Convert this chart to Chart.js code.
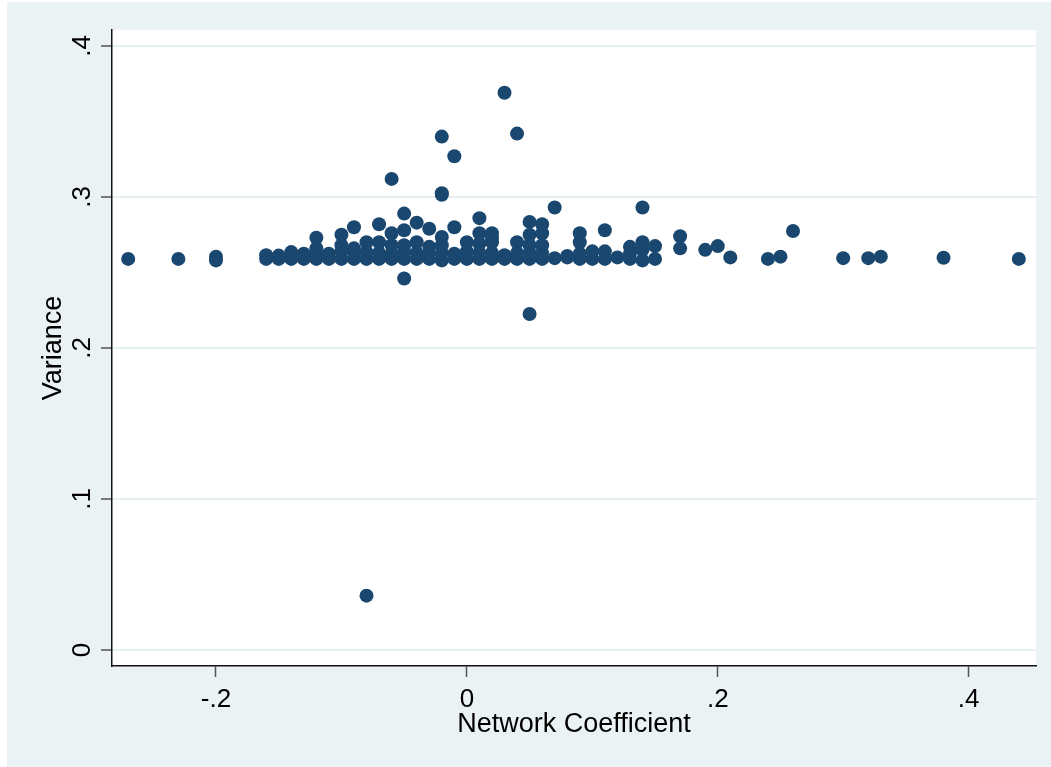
<!DOCTYPE html>
<html>
<head>
<meta charset="utf-8">
<script src="https://cdn.jsdelivr.net/npm/chart.js@4.4.1/dist/chart.umd.min.js"></script>
<style>
  html, body { margin: 0; padding: 0; background: #fff; }
  #wrap { width: 1051px; height: 767px; }
</style>
</head>
<body>
<div id="wrap"><canvas id="graph" width="1051" height="767"></canvas></div>
<script>
// valeurs (x = coefficient réseau, y = variance)
const networkCoef = [
  -0.27, -0.23, -0.20, -0.20,
  0.21, 0.24, 0.25, 0.26, 0.30, 0.32, 0.33, 0.38, 0.44,
  0.17, 0.17, 0.19, 0.20,
  -0.16, -0.15, -0.14, -0.13, -0.12, -0.11, -0.10, -0.09, -0.08, -0.07, -0.06, -0.05, -0.04, -0.03, -0.02, -0.01,
  0.00, 0.01, 0.02, 0.03, 0.04, 0.05, 0.06, 0.07, 0.08, 0.09, 0.10, 0.11, 0.12, 0.13, 0.14, 0.15,
  -0.16, -0.15, -0.14, -0.13, -0.12, -0.11, -0.10, -0.09, -0.08, -0.07, -0.06, -0.05, -0.04, -0.03, -0.02, -0.01,
  0.00, 0.01, 0.02, 0.03, 0.04, 0.05, 0.06, 0.08, 0.09, 0.10, 0.11, 0.13, 0.14, 0.15,
  -0.12, -0.10, -0.09, -0.08, -0.07, -0.06, -0.05, -0.04, -0.03, -0.02,
  0.00, 0.01, 0.02, 0.04, 0.05, 0.06, 0.09, 0.13, 0.14,
  -0.12, -0.10, -0.09, -0.07, -0.06, -0.06, -0.05, -0.05, -0.05, -0.04, -0.03,
  -0.02, -0.02, -0.02, -0.02, -0.01, -0.01, 0.01, 0.01, 0.02, 0.02, 0.03, 0.04,
  0.05, 0.05, 0.05, 0.06, 0.06, 0.07, 0.09, 0.11, 0.14, -0.08
];
const varianceVals = [
  0.259, 0.259, 0.258, 0.2605,
  0.260, 0.259, 0.2605, 0.2775, 0.2595, 0.2595, 0.2605, 0.2598, 0.259,
  0.274, 0.266, 0.265, 0.2675,
  0.259, 0.259, 0.259, 0.259, 0.259, 0.259, 0.259, 0.259, 0.259, 0.259, 0.259, 0.259, 0.259, 0.259, 0.258, 0.259,
  0.259, 0.259, 0.259, 0.259, 0.259, 0.259, 0.259, 0.2595, 0.260, 0.259, 0.259, 0.259, 0.260, 0.259, 0.258, 0.259,
  0.2615, 0.2612, 0.2635, 0.2625, 0.2625, 0.2625, 0.264, 0.263, 0.2635, 0.263, 0.2625, 0.264, 0.263, 0.2625, 0.263, 0.2625,
  0.264, 0.263, 0.263, 0.2615, 0.263, 0.263, 0.263, 0.261, 0.2625, 0.264, 0.264, 0.2625, 0.265, 0.2675,
  0.266, 0.268, 0.266, 0.270, 0.270, 0.268, 0.268, 0.270, 0.267, 0.268,
  0.270, 0.269, 0.270, 0.270, 0.268, 0.268, 0.270, 0.267, 0.270,
  0.273, 0.275, 0.280, 0.282, 0.276, 0.312, 0.278, 0.289, 0.246, 0.283, 0.279,
  0.2735, 0.3015, 0.3025, 0.340, 0.280, 0.327, 0.276, 0.286, 0.276, 0.273, 0.369, 0.342,
  0.275, 0.2835, 0.2225, 0.276, 0.282, 0.293, 0.276, 0.278, 0.293, 0.036
];
const xTicks = [-0.2, 0, 0.2, 0.4];
const yTicks = [0, 0.1, 0.2, 0.3, 0.4];

const POLICE = '26px "Liberation Sans", Arial, sans-serif';
const POLICE_TITRE = '27px "Liberation Sans", Arial, sans-serif';
const fmt = (v) => v === 0 ? '0' : v.toFixed(1).replace('0.', '.');

const fondPlugin = {
  id: 'fond',
  beforeDraw(chart) {
    const { ctx, chartArea: a } = chart;
    ctx.save();
    ctx.fillStyle = '#ffffff';
    ctx.fillRect(0, 0, chart.width, chart.height);
    ctx.fillStyle = '#eaf2f3';
    ctx.fillRect(7, 2, chart.width - 7, chart.height - 2);
    ctx.fillStyle = '#ffffff';
    ctx.fillRect(a.left, a.top, a.right - a.left, a.bottom - a.top);
    ctx.restore();
  },
  afterDraw(chart) {
    const { ctx, chartArea: a } = chart;
    const sx = chart.scales.x, sy = chart.scales.y;
    ctx.save();
    ctx.font = POLICE;
    ctx.fillStyle = '#000';
    ctx.textAlign = 'center';
    ctx.textBaseline = 'alphabetic';
    xTicks.forEach(v => ctx.fillText(fmt(v), sx.getPixelForValue(v), 707));
    yTicks.forEach(v => {
      ctx.save();
      ctx.translate(90, sy.getPixelForValue(v));
      ctx.rotate(-Math.PI / 2);
      ctx.fillText(fmt(v), 0, 0);
      ctx.restore();
    });
    ctx.font = POLICE_TITRE;
    ctx.fillText('Network Coefficient', (a.left + a.right) / 2, 732);
    ctx.translate(61, (a.top + a.bottom) / 2);
    ctx.rotate(-Math.PI / 2);
    ctx.fillText('Variance', 0, 0);
    ctx.restore();
  }
};

new Chart(document.getElementById('graph'), {
  type: 'scatter',
  data: {
    datasets: [{
      data: networkCoef.map((x, i) => ({ x, y: varianceVals[i] })),
      backgroundColor: '#1a476f',
      borderWidth: 0,
      pointRadius: 7,
      pointHoverRadius: 7
    }]
  },
  options: {
    responsive: false,
    animation: false,
    events: [],
    layout: { padding: { top: 30, right: 15, left: 0, bottom: 0 } },
    plugins: { legend: { display: false }, tooltip: { enabled: false } },
    scales: {
      x: {
        type: 'linear',
        min: -0.2829, max: 0.4537,
        afterBuildTicks: (s) => { s.ticks = xTicks.map(v => ({ value: v })); },
        afterFit: (s) => { s.height = 101; },
        ticks: { display: false },
        grid: { drawOnChartArea: false, tickLength: 11, tickColor: '#555', tickWidth: 1.5 },
        border: { color: '#111', width: 1.5 }
      },
      y: {
        type: 'linear',
        min: -0.0106, max: 0.4106,
        afterBuildTicks: (s) => { s.ticks = yTicks.map(v => ({ value: v })); },
        afterFit: (s) => { s.width = 112; },
        ticks: { display: false },
        grid: { color: '#e6eff1', lineWidth: 2, tickLength: 11, tickColor: '#555', tickWidth: 1.5 },
        border: { color: '#111', width: 1.5 }
      }
    }
  },
  plugins: [fondPlugin]
});
</script>
</body>
</html>
